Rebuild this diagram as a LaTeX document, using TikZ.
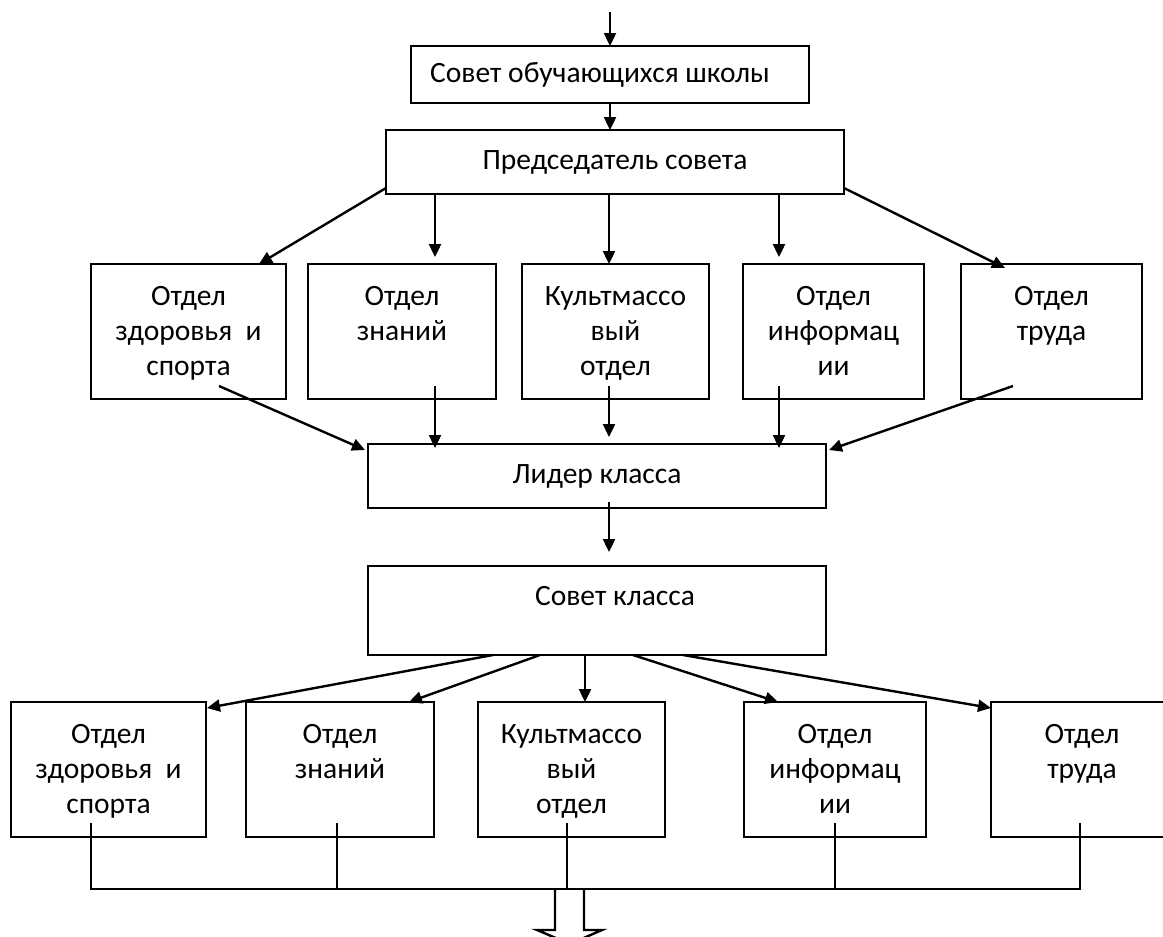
\documentclass[tikz,border=0pt]{standalone}
\usepackage{fontspec}
\setmainfont{Carlito}
\usetikzlibrary{arrows.meta,calc}

\newcommand{\dept}[2]{\parbox[b][135pt][t]{#1pt}{\centering\rule{0pt}{41pt}#2}}

\begin{document}
\begin{tikzpicture}[x=1pt, y=-1pt,
  >={Triangle[length=13pt,width=12pt]},
  every node/.style={font=\fontsize{29.5}{35}\selectfont},
  orgbox/.style={draw, line width=2pt, inner sep=0pt, outer sep=0pt, anchor=north west},
  arrowline/.style={->, line width=2.4pt},
  bus/.style={line width=1.6pt}]

\useasboundingbox (0,0) rectangle (1163,937);

% school level
\coordinate (entry) at (610,12);
\node[orgbox, minimum width=398pt, minimum height=57pt] (council) at (411,46) {\hspace*{-20pt}Совет обучающихся школы};
\node[orgbox, minimum width=458pt, minimum height=64pt] (chair) at (386,130) {Председатель совета};

\node[orgbox] (sport) at (91,264) {\dept{195}{Отдел\\здоровья~ и\\спорта}};
\node[orgbox] (know) at (308,264) {\dept{188}{Отдел\\знаний}};
\node[orgbox] (mass) at (522,264) {\dept{187}{Культмассо\\вый\\отдел}};
\node[orgbox] (info) at (743,264) {\dept{181}{Отдел\\информац\\ии}};
\node[orgbox] (work) at (961,264) {\dept{181}{Отдел\\труда}};

% class level
\node[orgbox, minimum width=458pt, minimum height=64pt] (leader) at (368,444) {Лидер класса};
\node[orgbox] (classc) at (368,566) {\parbox[b][89pt][t]{458pt}{\centering\rule{0pt}{39pt}\hspace*{36pt}Совет класса}};

\node[orgbox] (csport) at (11,702) {\dept{195}{Отдел\\здоровья~ и\\спорта}};
\node[orgbox] (cknow) at (246,702) {\dept{188}{Отдел\\знаний}};
\node[orgbox] (cmass) at (478,702) {\dept{187}{Культмассо\\вый\\отдел}};
\node[orgbox] (cinfo) at (744,702) {\dept{182}{Отдел\\информац\\ии}};
\node[orgbox] (cwork) at (991,702) {\dept{182}{Отдел\\труда}};

% arrows down to the departments
\draw[arrowline] (entry) -- (council.north);
\draw[arrowline] (council.south) -- (council.south |- chair.north);
\draw[arrowline] ($(chair.south west)+(0,-6)$) -- ($(sport.north east)+(-27,0)$);
\draw[arrowline] ($(chair.south)+(-180,0)$) -- ($(know.north)+(33,-7)$);
\draw[arrowline] ($(chair.south)+(-6,0)$) -- ($(mass.north)+(-6.5,0)$);
\draw[arrowline] ($(chair.south)+(164,0)$) -- ($(info.north)+(-54.5,-7)$);
\draw[arrowline] ($(chair.south east)+(0,-6)$) -- ($(work.north west)+(44,4)$);

\draw[arrowline] ($(sport.south)+(30.5,-13)$) -- ($(leader.north west)+(-3,6)$);
\draw[arrowline] ($(know.south)+(33,-13)$) -- ($(leader.north west)+(67,4)$);
\draw[arrowline] ($(mass.south)+(-6.5,-13)$) -- ($(leader.north)+(12,-7)$);
\draw[arrowline] ($(info.south)+(-54.5,-13)$) -- ($(leader.north)+(182,4)$);
\draw[arrowline] ($(work.south west)+(52,-13)$) -- ($(leader.north east)+(3,6)$);

\draw[arrowline] ($(leader.south)+(12,-6)$) -- ($(classc.north)+(12,-14)$);

\draw[arrowline] ($(classc.south)+(-104,0)$) -- ($(csport.north east)+(1,6)$);
\draw[arrowline] ($(classc.south)+(-57,0)$) -- ($(cknow.north east)+(-25,0)$);
\draw[arrowline] ($(classc.south)+(-12,0)$) -- ($(cmass.north)+(13.5,0)$);
\draw[arrowline] ($(classc.south)+(36,0)$) -- ($(cinfo.north)+(-57,0)$);
\draw[arrowline] ($(classc.south)+(86,0)$) -- ($(cwork.north west)+(0,6)$);

% bus and outlet
\draw[bus] ($(csport.south)+(-17.5,-14)$) |- ($(cwork.south west)+(89,52)$) -- ++(0,-66);
\draw[bus] ($(cknow.south)+(-3,-14)$) -- ++(0,66);
\draw[bus] ($(cmass.south)+(-4.5,-14)$) -- ++(0,66);
\draw[bus] ($(cinfo.south)+(0,-14)$) -- ++(0,66);

\draw[line width=2.4pt] ($(cmass.south)+(-16.5,52)$) -- ++(0,41) -- ++(-18,0) -- ++(33,14) -- ++(32,-14) -- ++(-18,0) -- ++(0,-41);

\end{tikzpicture}
\end{document}
